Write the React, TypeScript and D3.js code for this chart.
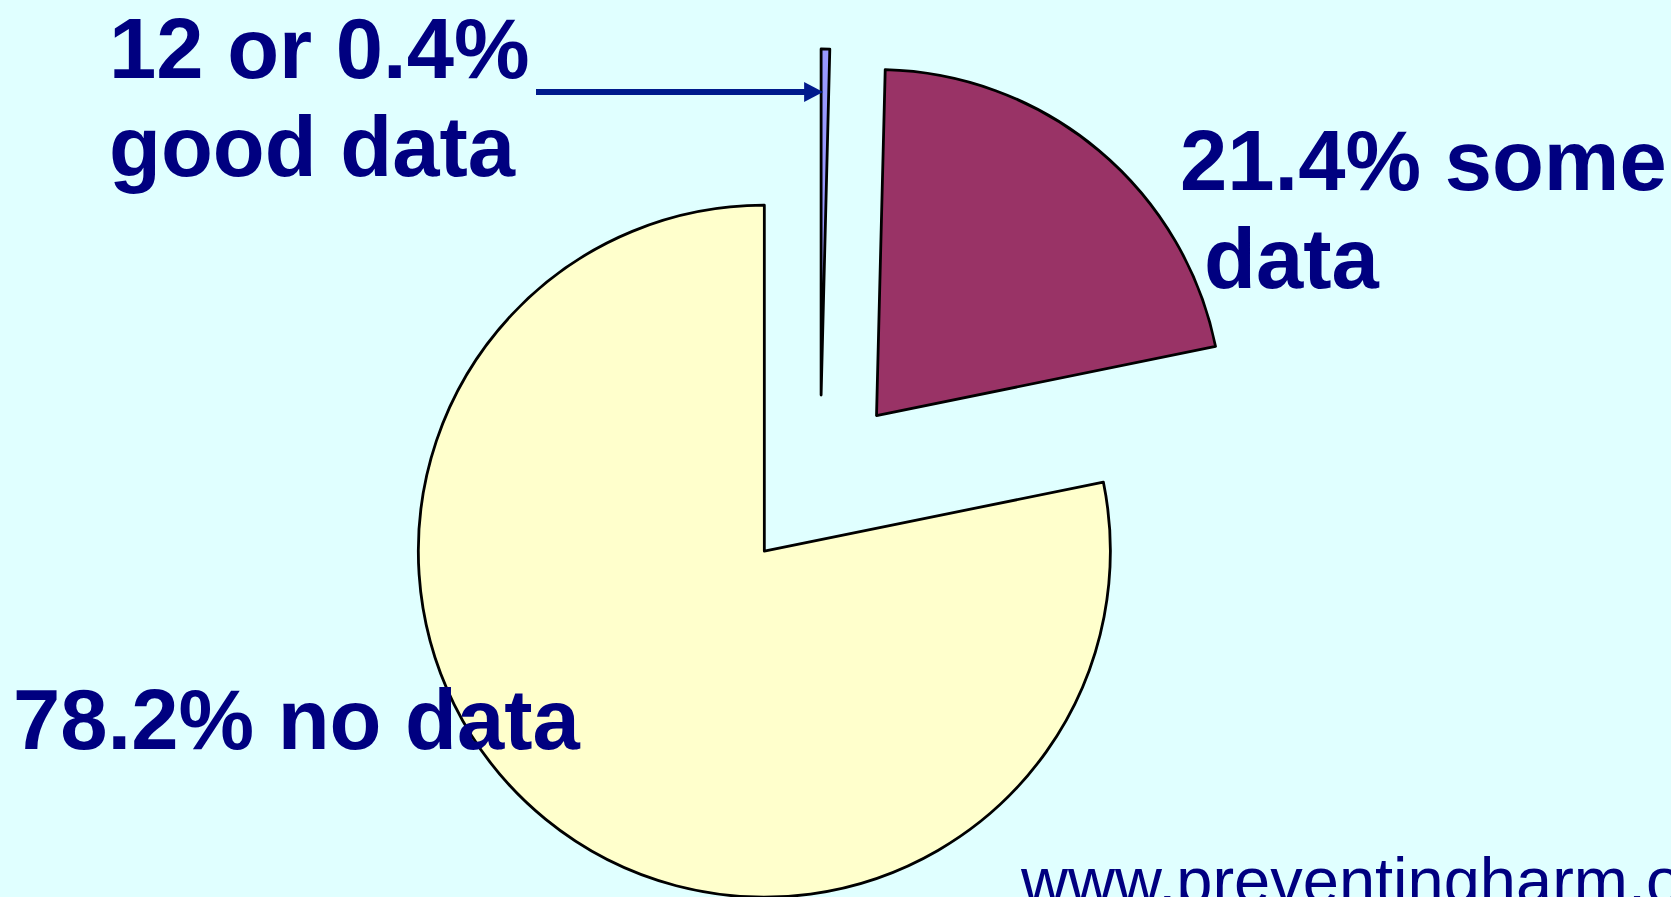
import { useEffect, useRef } from "react";
import * as d3 from "d3";

// share of records by data quality, clockwise from 12 o'clock
const categories = ["good data", "some data", "no data"];
const values = [0.4, 21.4, 78.2];
const colors = ["#9999FF", "#993366", "#FFFFCC"];

const labelLines = [
  ["12 or 0.4%", "good data"],
  ["21.4% some", "data"],
  ["78.2% no data"],
];

const footer = "www.preventingharm.org";

export default function App() {
  const svgRef = useRef<SVGSVGElement | null>(null);

  useEffect(() => {
    document.body.style.margin = "0";
    if (!svgRef.current) return;

    const width = 1671;
    const height = 897;
    const cx = 820;
    const cy = 483;
    const radius = 346;
    const explode = 88;
    const navy = "#000080";

    const svg = d3.select(svgRef.current);
    svg.selectAll("*").remove();

    svg
      .append("rect")
      .attr("width", width)
      .attr("height", height)
      .attr("fill", "#E0FFFF");

    const pie = d3
      .pie<number>()
      .sort(null)
      .value((d: number) => d)
      .startAngle(0)
      .endAngle(2 * Math.PI);
    const arcs = pie(values);

    const arc = d3.arc<d3.PieArcDatum<number>>().innerRadius(0).outerRadius(radius);

    const offset = (a: d3.PieArcDatum<number>) => {
      const mid = (a.startAngle + a.endAngle) / 2;
      return [cx + explode * Math.sin(mid), cy - explode * Math.cos(mid)];
    };

    svg
      .append("g")
      .selectAll("path")
      .data(arcs)
      .join("path")
      .attr("transform", (a: d3.PieArcDatum<number>) => {
        const [x, y] = offset(a);
        return `translate(${x},${y})`;
      })
      .attr("d", arc)
      .attr("fill", (_: unknown, i: number) => colors[i])
      .attr("stroke", "#000")
      .attr("stroke-width", 2.8)
      .attr("stroke-linejoin", "round")
      .attr("data-name", (_: unknown, i: number) => categories[i]);

    // arrow from the small label to the thin slice
    const [gx] = offset(arcs[0]);
    const tipX = gx + 2;
    const arrowY = 92;
    const arrowColor = "#001A8C";
    svg
      .append("line")
      .attr("x1", 536)
      .attr("y1", arrowY)
      .attr("x2", tipX - 15)
      .attr("y2", arrowY)
      .attr("stroke", arrowColor)
      .attr("stroke-width", 6);
    svg
      .append("path")
      .attr("d", `M${tipX},${arrowY} L${tipX - 19},${arrowY - 10} L${tipX - 19},${arrowY + 10} Z`)
      .attr("fill", arrowColor);

    const font = "'Liberation Sans', Arial, sans-serif";
    const labelPos = [
      { x: 109, y: 78 },
      { x: 1180, y: 190 },
      { x: 13, y: 749 },
    ];

    labelLines.forEach((lines, i) => {
      const t = svg
        .append("text")
        .attr("font-family", font)
        .attr("font-weight", "bold")
        .attr("font-size", 85)
        .attr("fill", navy);
      lines.forEach((line, j) => {
        t.append("tspan")
          .attr("x", labelPos[i].x + (i === 1 && j === 1 ? 24 : 0))
          .attr("y", labelPos[i].y + j * 98)
          .text(line);
      });
    });

    svg
      .append("text")
      .attr("x", 1021)
      .attr("y", 903)
      .attr("font-family", font)
      .attr("font-size", 65)
      .attr("fill", navy)
      .text(footer);
  }, []);

  return (
    <div style={{ position: "absolute", left: 0, top: 0 }}>
      <svg ref={svgRef} width={1671} height={897} style={{ display: "block" }} />
    </div>
  );
}
